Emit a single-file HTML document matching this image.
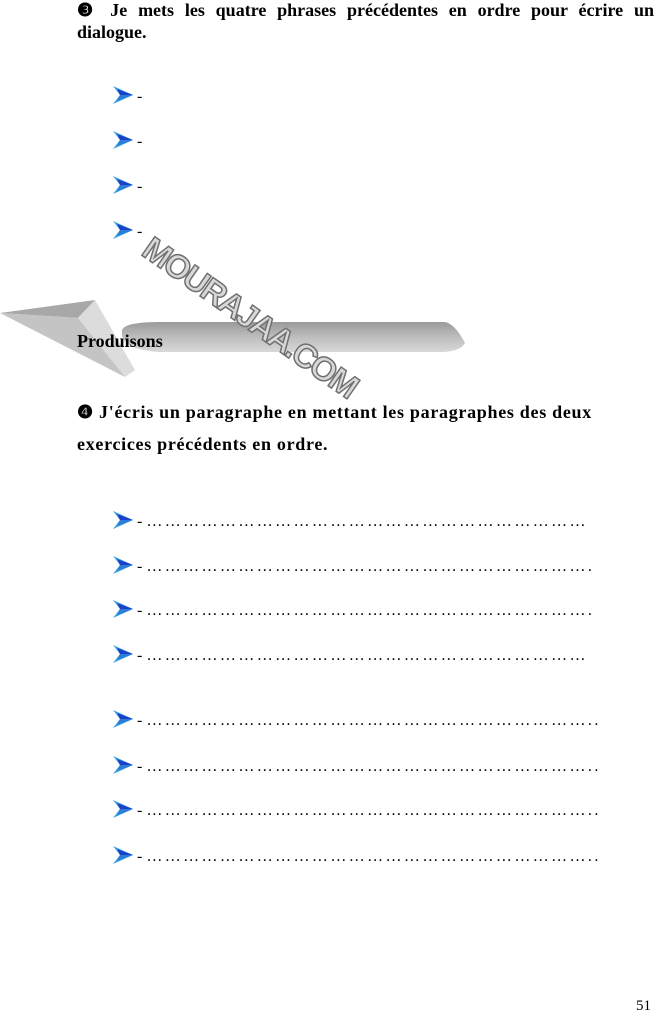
<!DOCTYPE html>
<html><head><meta charset="utf-8"><style>
body{margin:0;width:654px;height:1013px;background:#fff;position:relative;font-family:"Liberation Serif",serif;color:#000;overflow:hidden}
.t{position:absolute;font-size:18px;font-weight:bold}
.b{position:absolute;left:113px;font-size:16px;white-space:nowrap}
.b svg{vertical-align:-3px;margin-right:4px}
.d{letter-spacing:2.4px}
</style></head><body>
<div class="t" style="left:77px;top:-1px;width:577px;text-align:justify;text-align-last:justify;line-height:22px">❸ Je mets les quatre phrases précédentes en ordre pour écrire un</div>
<div class="t" style="left:77px;top:21px;line-height:22px">dialogue.</div>

<svg width="654" height="1013" style="position:absolute;left:0;top:0">
<defs>
<linearGradient id="bar" x1="0" y1="0" x2="0" y2="1"><stop offset="0" stop-color="#9a9a9a"/><stop offset="0.5" stop-color="#bdbdbd"/><stop offset="1" stop-color="#d8d8d8"/></linearGradient>
<symbol id="ar" viewBox="0 0 20 18"><path d="M0,0 L20,9 L0,18 L7,9 Z" fill="#3aa0e0"/><path d="M4,3 L20,9 L7,9 Z" fill="#1c40c8"/><path d="M7,9 L20,9 L4,15 Z" fill="#2b7dd8"/></symbol>
</defs>
<path d="M122,330 Q125,322 160,322 L445,322 Q455,324 465,343 Q460,352 440,352 L160,352 Q126,350 122,336 Z" fill="url(#bar)"/>
<path d="M0,313 L95,300 L78,318 Z" fill="#a8a8a8"/>
<path d="M95,300 L135,370 L125,377 L78,318 Z" fill="#dcdcdc"/>
<path d="M0,313 L78,318 L125,377 Z" fill="#c4c4c4"/>
<text x="0" y="0" transform="translate(140,254) rotate(35)" font-family="Liberation Sans,sans-serif" font-weight="bold" font-size="33" fill="#d8d8d8" stroke="#707070" stroke-width="1.5" letter-spacing="-2">MOURAJAA.COM</text>
</svg>

<div class="t" style="left:77px;top:331px">Produisons</div>
<div class="t" style="left:77px;top:396px;line-height:32px;letter-spacing:0.7px">❹ J'écris un paragraphe en mettant les paragraphes des deux<br>exercices précédents en ordre.</div>

<div class="b" style="top:86px"><svg width="20" height="18"><use href="#ar"/></svg>-</div>
<div class="b" style="top:131px"><svg width="20" height="18"><use href="#ar"/></svg>-</div>
<div class="b" style="top:176px"><svg width="20" height="18"><use href="#ar"/></svg>-</div>
<div class="b" style="top:221px"><svg width="20" height="18"><use href="#ar"/></svg>-</div>

<div class="b" style="top:511px"><svg width="20" height="18"><use href="#ar"/></svg>- <span class="d">………………………………………………………………</span></div>
<div class="b" style="top:556px"><svg width="20" height="18"><use href="#ar"/></svg>- <span class="d">……………………………………………………………….</span></div>
<div class="b" style="top:600px"><svg width="20" height="18"><use href="#ar"/></svg>- <span class="d">……………………………………………………………….</span></div>
<div class="b" style="top:645px"><svg width="20" height="18"><use href="#ar"/></svg>- <span class="d">………………………………………………………………</span></div>
<div class="b" style="top:710px"><svg width="20" height="18"><use href="#ar"/></svg>- <span class="d">………………………………………………………………..</span></div>
<div class="b" style="top:756px"><svg width="20" height="18"><use href="#ar"/></svg>- <span class="d">………………………………………………………………..</span></div>
<div class="b" style="top:800px"><svg width="20" height="18"><use href="#ar"/></svg>- <span class="d">………………………………………………………………..</span></div>
<div class="b" style="top:846px"><svg width="20" height="18"><use href="#ar"/></svg>- <span class="d">………………………………………………………………..</span></div>

<div style="position:absolute;left:636px;top:998px;font-size:15px">51</div>
</body></html>
